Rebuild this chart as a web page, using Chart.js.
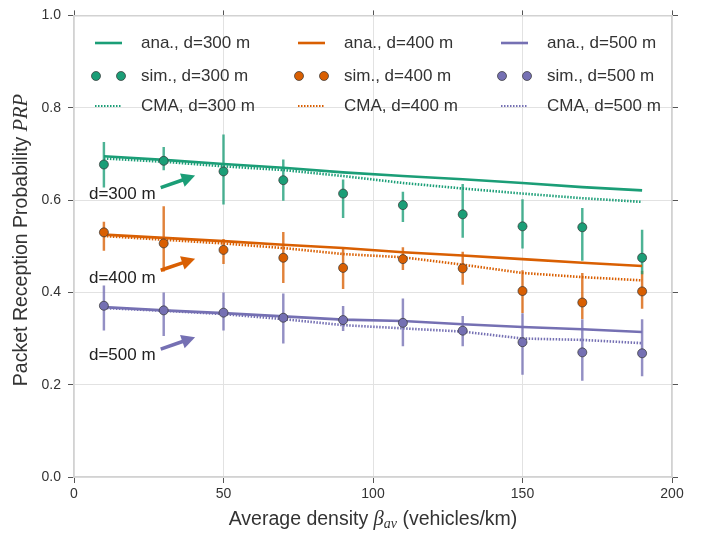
<!DOCTYPE html>
<html>
<head>
<meta charset="utf-8">
<script src="https://cdn.jsdelivr.net/npm/chart.js@4.4.1/dist/chart.umd.min.js"></script>
<style>
  html, body { margin: 0; padding: 0; background: #fff; }
  #wrap { width: 704px; height: 536px; }
</style>
</head>
<body>
<div id="wrap"><canvas id="prpChart" width="704" height="536"></canvas></div>
<script>
// Data
const densities = [10, 30, 50, 70, 90, 110, 130, 150, 170, 190];

const ana300 = [0.695, 0.687, 0.678, 0.670, 0.660, 0.652, 0.645, 0.637, 0.628, 0.621];
const cma300 = [0.690, 0.683, 0.673, 0.665, 0.652, 0.637, 0.625, 0.614, 0.604, 0.596];
const sim300 = [0.677, 0.685, 0.662, 0.643, 0.614, 0.589, 0.569, 0.543, 0.541, 0.475];
const sim300Low = [0.628, 0.665, 0.591, 0.599, 0.562, 0.553, 0.519, 0.496, 0.469, 0.440];
const sim300High = [0.725, 0.714, 0.741, 0.687, 0.644, 0.617, 0.634, 0.601, 0.582, 0.535];

const ana400 = [0.525, 0.518, 0.511, 0.503, 0.496, 0.487, 0.480, 0.472, 0.464, 0.457];
const cma400 = [0.522, 0.514, 0.506, 0.496, 0.483, 0.476, 0.460, 0.442, 0.433, 0.426];
const sim400 = [0.530, 0.506, 0.492, 0.475, 0.453, 0.472, 0.452, 0.403, 0.378, 0.402];
const sim400Low = [0.491, 0.446, 0.462, 0.421, 0.408, 0.449, 0.417, 0.356, 0.343, 0.365];
const sim400High = [0.552, 0.586, 0.515, 0.530, 0.494, 0.497, 0.487, 0.447, 0.441, 0.446];

const ana500 = [0.368, 0.361, 0.355, 0.348, 0.341, 0.338, 0.331, 0.325, 0.320, 0.314];
const cma500 = [0.366, 0.360, 0.353, 0.342, 0.329, 0.322, 0.315, 0.300, 0.297, 0.290];
const sim500 = [0.371, 0.361, 0.356, 0.345, 0.340, 0.334, 0.317, 0.292, 0.270, 0.268];
const sim500Low = [0.318, 0.306, 0.318, 0.290, 0.317, 0.284, 0.284, 0.222, 0.209, 0.219];
const sim500High = [0.414, 0.399, 0.399, 0.397, 0.370, 0.386, 0.348, 0.354, 0.341, 0.341];

// Annotation text + arrows (data coordinates)
const noteTexts = ['d=300 m', 'd=400 m', 'd=500 m'];
const noteX = [5, 5, 5];
const noteY = [0.612, 0.431, 0.263];
const arrowFromX = [29, 29, 29];
const arrowToX = [40.5, 40.5, 40.5];
const arrowFromY = [0.627, 0.448, 0.277];
const arrowToY = [0.653, 0.473, 0.303];

const GREEN = '#1b9e77';
const ORANGE = '#d95f02';
const PURPLE = '#7570b3';
const noteColors = [GREEN, ORANGE, PURPLE];

const TEXT = '#333333';
const FONT = "'Liberation Sans', Arial, sans-serif";
const MATH = "'Liberation Serif', 'DejaVu Serif', serif";

function pts(ys) {
    return densities.map((x, i) => ({ x: x, y: ys[i] }));
}
function bars(lo, hi) {
    return densities.map((x, i) => ({ x: x, y: [lo[i], hi[i]] }));
}
function hexA(hex, a) {
    const n = parseInt(hex.slice(1), 16);
    return `rgba(${(n >> 16) & 255}, ${(n >> 8) & 255}, ${n & 255}, ${a})`;
}

function anaSet(label, ys, color) {
    return { type: 'line', label, data: pts(ys), borderColor: color, backgroundColor: color,
        borderWidth: 2.6, pointRadius: 0, fill: false, tension: 0, order: 2, kind: 'ana' };
}
function cmaSet(label, ys, color) {
    return { type: 'line', label, data: pts(ys), borderColor: color, backgroundColor: color,
        borderWidth: 2.6, borderDash: [1.5, 1.5], pointRadius: 0, fill: false, tension: 0, order: 2, kind: 'cma' };
}
function simSet(label, ys, color) {
    return { type: 'line', label, data: pts(ys), showLine: false, pointRadius: 4.5,
        pointBackgroundColor: color, pointBorderColor: 'rgba(55,55,55,0.9)', pointBorderWidth: 0.8,
        borderColor: color, backgroundColor: color, order: 1, kind: 'sim' };
}
function errSet(lo, hi, color) {
    return { type: 'bar', data: bars(lo, hi), backgroundColor: hexA(color, 0.78), borderWidth: 0,
        barThickness: 1.8, grouped: false, order: 3, kind: 'err' };
}

// Draws legend grid, annotations and mixed-style axis titles
const decorPlugin = {
    id: 'decor',
    afterDatasetsDraw(chart) {
        const ctx = chart.ctx;
        const xs = chart.scales.x, ys = chart.scales.y;

        // legend: 3 columns x 3 rows
        const colMarker = [95, 298, 501];
        const colText = [141, 344, 547];
        const rowY = [43, 76, 106];
        const series = chart.data.datasets.filter(d => d.label);
        ctx.save();
        ctx.font = `17px ${FONT}`;
        ctx.textBaseline = 'middle';
        series.forEach((d, i) => {
            const row = Math.floor(i / 3), col = i % 3;
            const y = rowY[row], x0 = colMarker[col];
            if (d.kind === 'sim') {
                [x0 + 1, x0 + 26].forEach(cx => {
                    ctx.beginPath();
                    ctx.arc(cx, y, 4.5, 0, Math.PI * 2);
                    ctx.fillStyle = d.pointBackgroundColor;
                    ctx.fill();
                    ctx.lineWidth = 0.8;
                    ctx.strokeStyle = d.pointBorderColor;
                    ctx.stroke();
                });
            } else {
                ctx.beginPath();
                ctx.setLineDash(d.kind === 'cma' ? [1.5, 1.5] : []);
                ctx.lineWidth = d.kind === 'cma' ? 2 : 2.6;
                ctx.strokeStyle = d.borderColor;
                ctx.moveTo(x0, y);
                ctx.lineTo(x0 + 27, y);
                ctx.stroke();
                ctx.setLineDash([]);
            }
            ctx.fillStyle = TEXT;
            ctx.textAlign = 'left';
            ctx.fillText(d.label, colText[col], y);
        });

        // annotations
        noteTexts.forEach((t, i) => {
            ctx.fillStyle = '#222';
            ctx.font = `17px ${FONT}`;
            ctx.fillText(t, xs.getPixelForValue(noteX[i]), ys.getPixelForValue(noteY[i]));

            const ax = xs.getPixelForValue(arrowFromX[i]), ay = ys.getPixelForValue(arrowFromY[i]);
            const bx = xs.getPixelForValue(arrowToX[i]), by = ys.getPixelForValue(arrowToY[i]);
            const ang = Math.atan2(by - ay, bx - ax);
            const headLen = 13.5, headW = 7;
            const hx = bx - headLen * Math.cos(ang), hy = by - headLen * Math.sin(ang);
            ctx.strokeStyle = noteColors[i];
            ctx.fillStyle = noteColors[i];
            ctx.lineWidth = 3.6;
            ctx.beginPath();
            ctx.moveTo(ax, ay);
            ctx.lineTo(hx + 1 * Math.cos(ang), hy + 1 * Math.sin(ang));
            ctx.stroke();
            ctx.beginPath();
            ctx.moveTo(bx, by);
            ctx.lineTo(hx + headW * Math.sin(ang), hy - headW * Math.cos(ang));
            ctx.lineTo(hx - headW * Math.sin(ang), hy + headW * Math.cos(ang));
            ctx.closePath();
            ctx.fill();
        });
        ctx.restore();
    },
    afterDraw(chart) {
        const ctx = chart.ctx;
        const area = chart.chartArea;
        ctx.save();
        ctx.fillStyle = TEXT;
        ctx.textBaseline = 'middle';
        ctx.textAlign = 'left';

        // x title: Average density β_av (vehicles/km)
        const parts = [
            { t: 'Average density ', f: `19.5px ${FONT}`, dy: 0 },
            { t: 'β', f: `italic 20.5px ${MATH}`, dy: 0 },
            { t: 'av', f: `italic 14px ${MATH}`, dy: 4 },
            { t: ' (vehicles/km)', f: `19.5px ${FONT}`, dy: 0 }
        ];
        let w = 0;
        parts.forEach(p => { ctx.font = p.f; w += ctx.measureText(p.t).width; });
        let x = (area.left + area.right) / 2 - w / 2;
        parts.forEach(p => {
            ctx.font = p.f;
            ctx.fillText(p.t, x, 520 + p.dy);
            x += ctx.measureText(p.t).width;
        });

        // y title: Packet Reception Probability PRP
        const yparts = [
            { t: 'Packet Reception Probability ', f: `19.5px ${FONT}` },
            { t: 'PRP', f: `italic 20.5px ${MATH}` }
        ];
        w = 0;
        yparts.forEach(p => { ctx.font = p.f; w += ctx.measureText(p.t).width; });
        ctx.translate(22, 240);
        ctx.rotate(-Math.PI / 2);
        x = -w / 2;
        yparts.forEach(p => {
            ctx.font = p.f;
            ctx.fillText(p.t, x, 0);
            x += ctx.measureText(p.t).width;
        });
        ctx.restore();
    }
};

const gridColor = '#e2e2e2';
const frameColor = '#d2d2d2';
const tickColor = '#555555';

new Chart(document.getElementById('prpChart'), {
    type: 'line',
    data: {
        datasets: [
            anaSet('ana., d=300 m', ana300, GREEN),
            anaSet('ana., d=400 m', ana400, ORANGE),
            anaSet('ana., d=500 m', ana500, PURPLE),
            simSet('sim., d=300 m', sim300, GREEN),
            simSet('sim., d=400 m', sim400, ORANGE),
            simSet('sim., d=500 m', sim500, PURPLE),
            cmaSet('CMA, d=300 m', cma300, GREEN),
            cmaSet('CMA, d=400 m', cma400, ORANGE),
            cmaSet('CMA, d=500 m', cma500, PURPLE),
            errSet(sim300Low, sim300High, GREEN),
            errSet(sim400Low, sim400High, ORANGE),
            errSet(sim500Low, sim500High, PURPLE)
        ]
    },
    options: {
        responsive: false,
        animation: false,
        devicePixelRatio: 1,
        layout: { padding: 0 },
        plugins: { legend: { display: false }, tooltip: { enabled: false } },
        scales: {
            x: {
                type: 'linear', position: 'bottom', min: 0, max: 200, offset: false,
                ticks: { stepSize: 50, color: TEXT, font: { family: FONT, size: 14 }, padding: 3, maxRotation: 0 },
                grid: { color: gridColor, tickColor: tickColor, tickLength: 6, offset: false },
                border: { color: frameColor, width: 1.5 },
                afterFit: s => { s.height = 59; }
            },
            x2: {
                type: 'linear', position: 'top', min: 0, max: 200, offset: false,
                ticks: { stepSize: 50, display: false },
                grid: { drawOnChartArea: false, tickColor: tickColor, tickLength: 5, offset: false },
                border: { color: frameColor, width: 1.5 },
                afterFit: s => { s.height = 13; }
            },
            y: {
                type: 'linear', position: 'left', min: 0, max: 1,
                ticks: { stepSize: 0.2, color: TEXT, font: { family: FONT, size: 14 }, padding: 7,
                    callback: v => v.toFixed(1) },
                grid: { color: gridColor, tickColor: tickColor, tickLength: 6 },
                border: { color: frameColor, width: 1.5 },
                afterFit: s => { s.width = 74; }
            },
            y2: {
                type: 'linear', position: 'right', min: 0, max: 1,
                ticks: { stepSize: 0.2, display: false },
                grid: { drawOnChartArea: false, tickColor: tickColor, tickLength: 6 },
                border: { color: frameColor, width: 1.5 },
                afterFit: s => { s.width = 32; }
            }
        }
    },
    plugins: [decorPlugin]
});
</script>
</body>
</html>
